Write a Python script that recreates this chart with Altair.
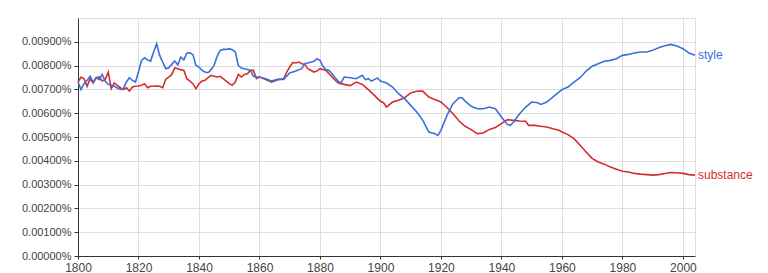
import altair as alt
import pandas as pd

# Style series (year, percent)
style_years = [1800,1801,1802,1803,1804,1805,1806,1807,1808,1809,1810,1811,1812,1813,1814,1815,1816,1817,1818,1819,
               1820,1821,1822,1823,1824,1825,1826,1827,1828,1829,1830,1831,1832,1833,1834,1835,1836,1837,1838,1839,
               1840,1841,1842,1843,1844,1845,1846,1847,1848,1849,1850,1851,1852,1853,1854,1855,1856,1857,1858,1859,
               1860,1862,1864,1866,1868,1870,1872,1874,1875,1876,1878,1879,1880,1881,1882,1883,1884,1885,1886,1887,
               1888,1890,1892,1894,1895,1896,1897,1898,1899,1900,1902,1904,1906,1908,1910,1912,1914,1916,1918,1919,
               1920,1922,1924,1926,1927,1928,1930,1932,1934,1936,1938,1940,1942,1943,1944,1946,1948,1950,1952,1953,
               1955,1957,1959,1960,1962,1964,1966,1968,1970,1972,1974,1976,1978,1980,1982,1984,1986,1988,1990,1992,
               1994,1996,1998,2000,2002,2004]
style_vals = [0.00731,0.00699,0.00724,0.00738,0.00755,0.00731,0.00749,0.00741,0.00763,0.00734,0.00721,0.00717,0.00713,0.00706,0.00700,0.00703,0.00731,0.00749,0.00738,0.00731,
              0.00773,0.00822,0.00833,0.00824,0.00819,0.00857,0.00892,0.00843,0.00815,0.00787,0.00791,0.00805,0.00819,0.00803,0.00836,0.00824,0.00853,0.00854,0.00846,0.00801,
              0.00794,0.00780,0.00773,0.00770,0.00783,0.00801,0.00839,0.00864,0.00868,0.00868,0.00871,0.00867,0.00857,0.00801,0.00790,0.00787,0.00784,0.00780,0.00755,0.00752,
              0.00752,0.00745,0.00735,0.00742,0.00742,0.00769,0.00777,0.00787,0.00808,0.00811,0.00818,0.00829,0.00822,0.00797,0.00783,0.00780,0.00766,0.00749,0.00735,0.00727,
              0.00752,0.00749,0.00745,0.00759,0.00741,0.00745,0.00735,0.00741,0.00748,0.00735,0.00727,0.00710,0.00682,0.00661,0.00633,0.00605,0.00570,0.00521,0.00514,0.00507,
              0.00528,0.00591,0.00640,0.00665,0.00665,0.00651,0.00629,0.00619,0.00619,0.00626,0.00619,0.00584,0.00552,0.00549,0.00563,0.00598,0.00626,0.00647,0.00644,0.00637,
              0.00647,0.00668,0.00689,0.00699,0.00710,0.00731,0.00749,0.00777,0.00797,0.00808,0.00818,0.00822,0.00829,0.00843,0.00847,0.00853,0.00857,0.00857,0.00864,0.00875,
              0.00883,0.00889,0.00882,0.00871,0.00853,0.00843]

substance_years = [1800,1801,1802,1803,1804,1805,1806,1807,1808,1809,1810,1811,1812,1813,1814,1815,1816,1817,1818,1819,
                   1820,1821,1822,1823,1824,1825,1826,1827,1828,1829,1830,1831,1832,1833,1834,1835,1836,1837,1838,1839,
                   1840,1841,1842,1843,1844,1845,1846,1847,1848,1849,1850,1851,1852,1853,1854,1855,1856,1857,1858,1859,
                   1860,1862,1864,1866,1868,1869,1870,1871,1872,1873,1874,1875,1876,1878,1879,1880,1882,1884,1886,1888,
                   1890,1892,1894,1896,1898,1900,1901,1902,1904,1906,1908,1910,1912,1914,1916,1918,1920,1922,1924,1926,
                   1928,1930,1932,1934,1936,1938,1940,1942,1944,1946,1948,1949,1951,1953,1955,1957,1959,1960,1962,1964,
                   1966,1968,1970,1972,1974,1976,1978,1980,1982,1984,1986,1988,1990,1992,1994,1996,1998,2000,2002,2004]
substance_vals = [0.00731,0.00752,0.00745,0.00713,0.00745,0.00727,0.00749,0.00752,0.00735,0.00741,0.00773,0.00703,0.00727,0.00717,0.00707,0.00699,0.00707,0.00693,0.00710,0.00713,
                  0.00714,0.00717,0.00724,0.00707,0.00713,0.00713,0.00714,0.00713,0.00707,0.00742,0.00752,0.00763,0.00790,0.00787,0.00783,0.00780,0.00745,0.00735,0.00724,0.00703,
                  0.00724,0.00735,0.00738,0.00749,0.00759,0.00755,0.00752,0.00755,0.00745,0.00735,0.00724,0.00717,0.00731,0.00763,0.00752,0.00763,0.00766,0.00780,0.00780,0.00745,
                  0.00752,0.00742,0.00731,0.00741,0.00745,0.00773,0.00794,0.00813,0.00811,0.00815,0.00808,0.00805,0.00787,0.00773,0.00777,0.00787,0.00780,0.00752,0.00727,0.00721,
                  0.00716,0.00731,0.00721,0.00699,0.00675,0.00650,0.00644,0.00626,0.00647,0.00654,0.00665,0.00685,0.00692,0.00693,0.00668,0.00658,0.00647,0.00624,0.00598,0.00567,
                  0.00545,0.00531,0.00514,0.00517,0.00532,0.00540,0.00556,0.00573,0.00570,0.00567,0.00566,0.00549,0.00549,0.00545,0.00542,0.00535,0.00528,0.00521,0.00510,0.00493,
                  0.00465,0.00437,0.00410,0.00395,0.00386,0.00374,0.00365,0.00356,0.00353,0.00347,0.00344,0.00342,0.00340,0.00342,0.00347,0.00351,0.00350,0.00347,0.00342,0.00340]

series_names = ["style", "substance"]
series_colors = ["#3a6fdc", "#d32f2a"]
y_ticks = [0.0, 0.001, 0.002, 0.003, 0.004, 0.005, 0.006, 0.007, 0.008, 0.009]
x_ticks = [1800, 1820, 1840, 1860, 1880, 1900, 1920, 1940, 1960, 1980, 2000]

df = pd.concat([
    pd.DataFrame({"year": style_years, "value": style_vals, "series": "style"}),
    pd.DataFrame({"year": substance_years, "value": substance_vals, "series": "substance"}),
])
last = df.sort_values("year").groupby("series").tail(1)

FONT = "Liberation Sans"
x = alt.X("year:Q", scale=alt.Scale(domain=[1800, 2004], nice=False, zero=False),
          axis=alt.Axis(values=x_ticks, format="d", title=None, grid=True, gridColor="#dddddd",
                        domainColor="#333333", tickColor="#333333", tickSize=3, labelPadding=3,
                        labelFont=FONT, labelFontSize=12, labelColor="#444444", labelFlush=False))
y = alt.Y("value:Q", scale=alt.Scale(domain=[0, 0.01], nice=False),
          axis=alt.Axis(values=y_ticks, labelExpr="format(datum.value, '.5f') + '%'", title=None,
                        grid=True, gridColor="#dddddd", domainColor="#333333", tickColor="#333333",
                        tickSize=4, labelPadding=3, labelFont=FONT, labelFontSize=11,
                        labelColor="#444444"))
color = alt.Color("series:N", scale=alt.Scale(domain=series_names, range=series_colors), legend=None)

lines = alt.Chart(df).mark_line(strokeWidth=1.6).encode(
    x=x, y=y, color=color,
    order=alt.Order("year:Q"),
    detail="series:N",
).transform_calculate(z="datum.series == 'style' ? 1 : 0")

red = alt.Chart(df[df.series == "substance"]).mark_line(strokeWidth=1.6).encode(x=x, y=y, color=color)
blue = alt.Chart(df[df.series == "style"]).mark_line(strokeWidth=1.6).encode(x=x, y=y, color=color)

labels = alt.Chart(last).mark_text(align="left", baseline="middle", dx=3, font=FONT, fontSize=12).encode(
    x=x, y=y, text="series:N", color=color)

chart = alt.layer(red, blue, labels).properties(
    width=617, height=238, autosize="none",
    padding={"left": 78, "top": 18, "right": 73, "bottom": 17},
).configure_view(stroke=None).configure(background="white")

chart.save("out.html", embed_options={"renderer": "svg", "actions": False})
